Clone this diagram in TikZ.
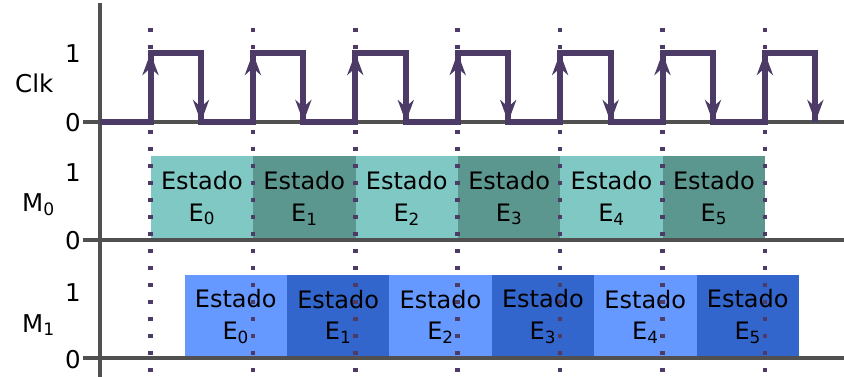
\documentclass[tikz,border=0pt]{standalone}
\usepackage{fontspec}
\setmainfont{DejaVu Sans}
\usetikzlibrary{arrows.meta}
\definecolor{clkc}{HTML}{4B3B66}
\definecolor{axisg}{HTML}{505050}
\definecolor{tealL}{HTML}{7FC8C4}
\definecolor{tealD}{HTML}{5B968F}
\definecolor{blueL}{HTML}{6699FF}
\definecolor{blueD}{HTML}{3366CC}
\begin{document}
\begin{tikzpicture}[x=1pt,y=-1pt,
  axisline/.style={draw=axisg,line width=3.4pt},
  clkline/.style={draw=clkc,line width=6pt,line join=miter},
  tipline/.style={draw=clkc,line width=6pt,-{Stealth[length=22pt,width=16pt,inset=7pt]}},
  dotline/.style={draw=clkc,line width=4.5pt,dash pattern=on 4.5pt off 12.5pt},
  lbl/.style={font=\fontsize{24.5pt}{29pt}\selectfont,inner sep=0pt,anchor=base},
  statebox/.style={anchor=north west,minimum width=102.4pt,minimum height=84pt,inner sep=0pt,
    align=center,font=\fontsize{24pt}{31.7pt}\selectfont,text=black}
]
\useasboundingbox (0,0) rectangle (844,377);

% state boxes M0
\foreach \i/\c in {0/tealL,1/tealD,2/tealL,3/tealD,4/tealL,5/tealD}{
  \pgfmathsetmacro{\xx}{150.5+102.4*\i}
  \node[statebox,fill=\c] (mzb\i) at (\xx,156) {Estado\\E\textsubscript{\i}};
}
% state boxes M1
\foreach \i/\c in {0/blueL,1/blueD,2/blueL,3/blueD,4/blueL,5/blueD}{
  \pgfmathsetmacro{\xx}{184.3+102.4*\i}
  \node[statebox,fill=\c,minimum height=83pt] (mob\i) at (\xx,275) {Estado\\E\textsubscript{\i}};
}

% axes
\draw[axisline] (100,3) -- (100,377);
\draw[axisline] (83,122) -- (844,122);
\draw[axisline] (83,240) -- (844,240);
\draw[axisline] (83,358) -- (844,358);

% labels
\node[lbl] (c1) at (73,63) {1};
\node[lbl,anchor=base west] (clk) at (15,93) {Clk};
\node[lbl] (c0) at (73,131.5) {0};
\node[lbl] (a1) at (73,182) {1};
\node[lbl,anchor=base west] (m0) at (22,211.7) {M\textsubscript{0}};
\node[lbl] (a0) at (73,249.5) {0};
\node[lbl] (b1) at (73,301) {1};
\node[lbl,anchor=base west] (m1) at (22,332) {M\textsubscript{1}};
\node[lbl] (b0) at (73,368.5) {0};

% clock waveform
\draw[clkline] (100,122) -- (150.5,122)
  -- (150.5,53) -- (201,53) -- (201,122) -- (252.9,122)
  -- (252.9,53) -- (303.4,53) -- (303.4,122) -- (355.3,122)
  -- (355.3,53) -- (405.8,53) -- (405.8,122) -- (457.7,122)
  -- (457.7,53) -- (508.2,53) -- (508.2,122) -- (560.1,122)
  -- (560.1,53) -- (610.6,53) -- (610.6,122) -- (662.5,122)
  -- (662.5,53) -- (713,53) -- (713,122) -- (764.9,122)
  -- (764.9,53) -- (815.4,53) -- (815.4,122);
\foreach \k in {0,...,6}{
  \pgfmathsetmacro{\rr}{150.5+102.4*\k}
  \pgfmathsetmacro{\ff}{\rr+50.5}
  \draw[tipline] (\rr,100) -- (\rr,53);
  \draw[tipline] (\ff,75) -- (\ff,122);
}

% dotted guide lines
\foreach \k in {0,...,6}{
  \pgfmathsetmacro{\rr}{150.5+102.4*\k}
  \draw[dotline] (\rr,27.75) -- (\rr,377);
}
\end{tikzpicture}
\end{document}
